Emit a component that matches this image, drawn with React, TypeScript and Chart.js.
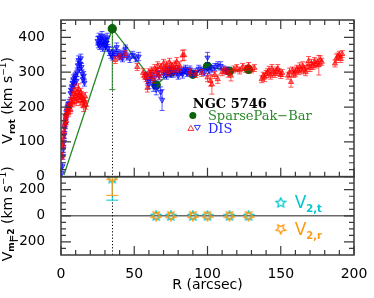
import { useEffect, useRef } from 'react';
import { Chart, registerables } from 'chart.js';
Chart.register(...registerables);

// [R (arcsec), V (km/s), error]
const disRed: [number, number, number][] = [
  [0.5, 100, 10], [0.8, 60, 10], [1.2, 90, 10], [1.6, 115, 10], [2.0, 130, 10], [2.4, 150, 10],
  [2.8, 165, 10], [3.2, 178, 12], [3.6, 160, 10], [4.0, 185, 10], [4.5, 195, 12], [5.0, 182, 10],
  [5.5, 200, 10], [6.0, 208, 12], [6.5, 192, 10], [7.0, 215, 12], [7.5, 228, 15], [8.0, 212, 12],
  [8.5, 238, 15], [9.0, 222, 12], [9.5, 248, 15], [10.0, 232, 12], [10.5, 216, 12], [11.0, 242, 15],
  [11.5, 226, 12], [12.0, 252, 15], [12.5, 236, 12], [13.0, 220, 15], [13.5, 242, 12], [14.0, 230, 15],
  [14.5, 212, 12], [15.0, 226, 12], [15.5, 202, 15], [16.0, 216, 12], [16.5, 230, 12], [17.0, 206, 12],
  [37, 335, 10], [40, 345, 8], [44, 352, 10], [52, 315, 10],
  [56, 298, 12], [57, 290, 10], [58, 285, 12], [59, 255, 12], [60, 300, 10], [61, 293, 12],
  [62, 305, 10], [63, 280, 10], [64, 310, 12], [65, 300, 10], [66, 318, 12], [67, 290, 10],
  [68, 315, 10], [69, 305, 12], [70, 325, 12], [71, 310, 10], [72, 320, 12], [73, 300, 10],
  [74, 328, 12], [75, 312, 12], [76, 318, 10], [77, 305, 12], [78, 322, 10], [79, 330, 12],
  [80, 310, 10], [81, 318, 12], [83, 348, 15], [84, 349, 15],
  [88, 300, 10], [92, 295, 10], [96, 298, 10], [100, 285, 12], [102, 275, 15], [103, 265, 28],
  [105, 292, 10], [107, 280, 12], [110, 300, 10], [112, 305, 10], [114, 298, 12], [116, 290, 15],
  [118, 308, 10], [120, 312, 10], [122, 305, 10], [124, 315, 10], [126, 310, 10], [128, 318, 10],
  [130, 308, 10], [132, 312, 10],
  [137, 280, 10], [138, 290, 10], [139, 285, 12], [140, 295, 10], [141, 300, 10], [142, 305, 12],
  [143, 290, 10], [144, 310, 12], [145, 300, 10], [146, 295, 10], [147, 305, 10], [148, 310, 12],
  [149, 300, 10], [150, 292, 10], [151, 298, 10], [155, 290, 10], [156, 300, 12], [157, 272, 15],
  [158, 305, 10], [159, 295, 10], [160, 300, 12], [161, 310, 10], [162, 303, 10], [163, 315, 12],
  [164, 305, 10], [165, 318, 12], [166, 310, 10], [167, 300, 10], [168, 315, 12], [169, 332, 13],
  [170, 312, 10], [171, 325, 12], [172, 318, 10], [173, 330, 12], [174, 322, 10], [175, 328, 10],
  [176, 320, 28], [177, 335, 12], [178, 330, 10],
  [187, 325, 10], [188, 340, 12], [189, 345, 10], [190, 350, 10], [191, 338, 10], [192, 352, 10],
];

const disBlue: [number, number, number][] = [
  [0.5, 10, 10], [1.0, 30, 10], [1.3, 60, 10], [1.6, 80, 10], [2.0, 100, 10], [2.3, 120, 10],
  [2.6, 140, 10], [3.0, 150, 12], [3.3, 165, 10], [3.6, 175, 12], [4.0, 190, 10], [4.5, 200, 12],
  [5.0, 205, 10], [5.5, 210, 12], [6.0, 198, 10], [6.5, 240, 12], [7.0, 250, 10], [7.5, 260, 12],
  [8.0, 270, 10], [8.5, 280, 12], [9.0, 265, 10], [9.5, 285, 12], [10.0, 290, 10], [10.5, 275, 12],
  [11.0, 300, 12], [11.5, 320, 12], [12.0, 335, 12], [12.5, 310, 10], [13.0, 325, 12], [13.5, 340, 12],
  [14.0, 315, 10], [14.5, 295, 12], [15.0, 280, 10], [15.5, 290, 12], [16.0, 270, 10],
  [25, 390, 12], [25.5, 380, 10], [26, 400, 12], [26.5, 375, 10], [27, 395, 12], [27.5, 385, 10],
  [28, 405, 12], [28.5, 370, 10], [29, 390, 12], [29.5, 380, 10], [30, 395, 12], [30.5, 375, 10],
  [31, 385, 12], [31.5, 400, 12], [32, 370, 10], [33, 360, 12],
  [34, 350, 10], [35, 345, 10], [36, 360, 12], [37, 350, 10], [38, 372, 12], [39, 355, 10],
  [40, 345, 10], [41, 350, 12], [42, 340, 10], [43, 355, 12], [44, 368, 10], [45, 345, 10],
  [47, 340, 12], [49, 350, 10], [51, 340, 10], [53, 345, 12],
  [58, 290, 10], [59, 275, 12], [60, 265, 12], [61, 280, 10], [62, 295, 10], [63, 260, 15],
  [64, 285, 10], [65, 250, 15], [66, 300, 10], [67, 290, 12], [68, 243, 15], [69, 220, 30],
  [70, 295, 10], [71, 305, 10], [72, 290, 10], [73, 300, 12], [74, 310, 10], [75, 295, 10],
  [76, 305, 10], [77, 298, 12], [78, 308, 10], [79, 300, 10], [80, 290, 10], [81, 305, 10],
  [82, 300, 10], [83, 295, 12], [84, 305, 10], [85, 310, 10], [86, 298, 10], [87, 302, 10],
  [88, 308, 10], [90, 296, 10], [92, 300, 10], [94, 310, 10], [96, 305, 10], [98, 300, 10],
  [100, 342, 15], [101, 305, 10], [103, 310, 10], [105, 315, 10], [107, 320, 10], [109, 318, 12],
  [111, 308, 10], [113, 305, 10],
];

const sparseR = [2, 35, 65, 75, 90, 100, 115, 128];
const sparseV = [5, 425, 263, 300, 294, 317, 303, 308];
const sparseErrLo = [0, 175, 0, 0, 0, 0, 0, 0];
const sparseErrHi = [0, 200, 0, 0, 0, 0, 0, 0];

const m2R = [35, 65, 75, 90, 100, 115, 128];
const v2t = [285, 0, 0, 0, 0, 0, 0];
const v2tErrLo = [165, 0, 0, 0, 0, 0, 0];
const v2tErrHi = [30, 0, 0, 0, 0, 0, 0];
const v2r = [290, 0, 0, 0, 0, 0, 0];
const v2rErrLo = [133, 0, 0, 0, 0, 0, 0];
const v2rErrHi = [30, 0, 0, 0, 0, 0, 0];

const xTicks = [0, 50, 100, 150, 200];
const yTopTicks = [0, 100, 200, 300, 400];
const yBotTicks = [-200, 0, 200];
const yBotLabels = ['\u2212200', '0', '200'];
const barRadius = 35;

const FONT = 'DejaVu Sans';
const CYAN = '#00c8d0';
const ORANGE = '#ff9910';
const GREEN = '#0b650b';

function makeStar(color: string, inverted: boolean, size = 12) {
  const c = document.createElement('canvas');
  c.width = size; c.height = size;
  const g = c.getContext('2d')!;
  g.strokeStyle = color; g.lineWidth = 1.3;
  g.beginPath();
  const cx = size / 2, cy = size / 2, R = size / 2 - 1, r = R * 0.48;
  for (let i = 0; i < 10; i++) {
    const ang = -Math.PI / 2 + i * Math.PI / 5 + (inverted ? Math.PI : 0);
    const rad = i % 2 === 0 ? R : r;
    const px = cx + rad * Math.cos(ang), py = cy + rad * Math.sin(ang);
    if (i === 0) g.moveTo(px, py); else g.lineTo(px, py);
  }
  g.closePath(); g.stroke();
  return c;
}

type Part = { t: string; size: number; dy?: number; bold?: boolean; family?: string };
function richWidth(ctx: CanvasRenderingContext2D, parts: Part[]) {
  let w = 0;
  for (const p of parts) { ctx.font = `${p.bold ? 'bold ' : ''}${p.size}px "${p.family || FONT}"`; w += ctx.measureText(p.t).width; }
  return w;
}
function drawRich(ctx: CanvasRenderingContext2D, parts: Part[], x: number, y: number, align: 'left' | 'center') {
  let cx = align === 'center' ? x - richWidth(ctx, parts) / 2 : x;
  ctx.textBaseline = 'alphabetic';
  ctx.textAlign = 'left';
  for (const p of parts) {
    ctx.font = `${p.bold ? 'bold ' : ''}${p.size}px "${p.family || FONT}"`;
    ctx.fillText(p.t, cx, y + (p.dy || 0));
    cx += ctx.measureText(p.t).width;
  }
}

const panelPlugin = {
  id: 'panels',
  beforeDatasetDraw(chart: any, args: any) {
    const ds = chart.data.datasets[args.index];
    if (!ds.errLo) return;
    const ys = chart.scales[ds.yAxisID];
    const ca = chart.chartArea;
    const ctx = chart.ctx;
    ctx.save();
    ctx.beginPath(); ctx.rect(ca.left, ys.top, ca.right - ca.left, ys.bottom - ys.top); ctx.clip();
    ctx.strokeStyle = ds.errColor; ctx.lineWidth = 1;
    const cap = ds.cap || 2.5;
    args.meta.data.forEach((pt: any, i: number) => {
      const lo = ds.errLo[i], hi = ds.errHi[i];
      if (!lo && !hi) return;
      const v = ds.data[i].y;
      const y1 = ys.getPixelForValue(v - lo), y2 = ys.getPixelForValue(v + hi);
      ctx.beginPath();
      ctx.moveTo(pt.x, y1); ctx.lineTo(pt.x, y2);
      ctx.moveTo(pt.x - cap, y1); ctx.lineTo(pt.x + cap, y1);
      ctx.moveTo(pt.x - cap, y2); ctx.lineTo(pt.x + cap, y2);
      ctx.stroke();
    });
    ctx.restore();
  },
  beforeDatasetsDraw(chart: any) {
    const ctx = chart.ctx;
    const xs = chart.scales.x, yt = chart.scales.y, yb = chart.scales.y2;
    const ca = chart.chartArea;
    ctx.save();
    ctx.strokeStyle = '#6a6a6a'; ctx.lineWidth = 1.5;
    const z = yb.getPixelForValue(0);
    ctx.beginPath(); ctx.moveTo(ca.left, z); ctx.lineTo(ca.right, z); ctx.stroke();
    ctx.strokeStyle = '#000'; ctx.lineWidth = 1; ctx.setLineDash([1.2, 2]);
    const bx = Math.round(xs.getPixelForValue(barRadius)) + 0.5;
    ctx.beginPath(); ctx.moveTo(bx, yt.top); ctx.lineTo(bx, yb.bottom); ctx.stroke();
    ctx.restore();
  },
  afterDraw(chart: any) {
    const ctx = chart.ctx;
    const xs = chart.scales.x, yt = chart.scales.y, yb = chart.scales.y2;
    const ca = chart.chartArea;
    ctx.save();
    ctx.strokeStyle = '#3a3a3a'; ctx.lineWidth = 1.5;
    ctx.strokeRect(ca.left, yt.top, ca.right - ca.left, yt.bottom - yt.top);
    ctx.strokeRect(ca.left, yb.top, ca.right - ca.left, yb.bottom - yb.top);
    ctx.lineWidth = 1.2;
    ctx.beginPath();
    for (let v = 0; v <= 200; v += 10) {
      const px = xs.getPixelForValue(v);
      const L = v % 50 === 0 ? 9 : 5;
      ctx.moveTo(px, yt.top); ctx.lineTo(px, yt.top + L);
      ctx.moveTo(px, yt.bottom); ctx.lineTo(px, yt.bottom - L);
      ctx.moveTo(px, yb.bottom); ctx.lineTo(px, yb.bottom - L);
    }
    for (let v = 0; v <= 440; v += 20) {
      const py = yt.getPixelForValue(v);
      const L = v % 100 === 0 ? 10 : 5;
      ctx.moveTo(ca.left, py); ctx.lineTo(ca.left + L, py);
      ctx.moveTo(ca.right, py); ctx.lineTo(ca.right - L, py);
    }
    for (let v = -250; v <= 250; v += 50) {
      const py = yb.getPixelForValue(v);
      const L = v % 200 === 0 ? 10 : 5;
      ctx.moveTo(ca.left, py); ctx.lineTo(ca.left + L, py);
      ctx.moveTo(ca.right, py); ctx.lineTo(ca.right - L, py);
    }
    ctx.stroke();

    // axis titles
    ctx.fillStyle = '#000';
    ctx.save();
    ctx.translate(12, (yt.top + yt.bottom) / 2 + 2);
    ctx.rotate(-Math.PI / 2);
    drawRich(ctx, [
      { t: 'V', size: 14 }, { t: 'rot', size: 9, dy: 3, bold: true }, { t: ' (km s', size: 14 },
      { t: '−1', size: 9, dy: -6 }, { t: ')', size: 14 },
    ], 0, 0, 'center');
    ctx.restore();
    ctx.save();
    ctx.translate(12, (yb.top + yb.bottom) / 2 - 2);
    ctx.rotate(-Math.PI / 2);
    drawRich(ctx, [
      { t: 'V', size: 14 }, { t: 'm=2', size: 9, dy: 2, bold: true }, { t: ' (km s', size: 14 },
      { t: '−1', size: 9, dy: -6 }, { t: ')', size: 14 },
    ], 0, 0, 'center');
    ctx.restore();
    drawRich(ctx, [{ t: 'R (arcsec)', size: 14 }], (ca.left + ca.right) / 2, 289, 'center');

    // top legend
    const lx = xs.getPixelForValue(90);
    const tx = xs.getPixelForValue(100.3);
    drawRich(ctx, [{ t: 'NGC 5746', size: 13, bold: true, family: 'DejaVu Serif' }], lx, yt.getPixelForValue(211) + 5, 'left');
    const gy = yt.getPixelForValue(176);
    ctx.fillStyle = GREEN;
    ctx.beginPath(); ctx.arc(lx, gy, 3.5, 0, Math.PI * 2); ctx.fill();
    ctx.fillStyle = '#2a8a2a';
    drawRich(ctx, [{ t: 'SparsePak−Bar', size: 13, family: 'DejaVu Serif' }], tx, gy + 5, 'left');
    const dy = yt.getPixelForValue(140);
    ctx.lineWidth = 1;
    ctx.strokeStyle = '#ff3030';
    ctx.beginPath(); ctx.moveTo(lx - 5, dy + 2.5); ctx.lineTo(lx - 2, dy - 2.5); ctx.lineTo(lx + 1, dy + 2.5); ctx.closePath(); ctx.stroke();
    ctx.strokeStyle = '#3030ff';
    ctx.beginPath(); ctx.moveTo(lx + 1.5, dy - 2.5); ctx.lineTo(lx + 7.5, dy - 2.5); ctx.lineTo(lx + 4.5, dy + 2.5); ctx.closePath(); ctx.stroke();
    ctx.fillStyle = '#2828ff';
    drawRich(ctx, [{ t: 'DIS', size: 13, family: 'DejaVu Serif' }], tx, dy + 5, 'left');

    // bottom legend
    const sx = xs.getPixelForValue(150);
    const s1 = yb.getPixelForValue(100), s2 = yb.getPixelForValue(-100);
    const st = makeStar(CYAN, false, 12), sr = makeStar(ORANGE, true, 12);
    ctx.drawImage(st, sx - 6, s1 - 6);
    ctx.drawImage(sr, sx - 6, s2 - 6);
    const vx = xs.getPixelForValue(159.5);
    ctx.fillStyle = CYAN;
    drawRich(ctx, [{ t: 'V', size: 17 }, { t: '2,t', size: 10, dy: 4, bold: true }], vx, s1 + 5, 'left');
    ctx.fillStyle = ORANGE;
    drawRich(ctx, [{ t: 'V', size: 17 }, { t: '2,r', size: 10, dy: 4, bold: true }], vx, s2 + 6, 'left');
    ctx.restore();
  },
};

export default function App() {
  const ref = useRef<HTMLCanvasElement>(null);
  useEffect(() => {
    const starT = makeStar(CYAN, false, 12);
    const starR = makeStar(ORANGE, true, 12);
    const chart = new Chart(ref.current!, {
      type: 'scatter',
      data: {
        datasets: [
          {
            data: disRed.map(d => ({ x: d[0], y: d[1] })),
            errLo: disRed.map(d => d[2]), errHi: disRed.map(d => d[2]), errColor: 'rgba(255,0,0,0.65)',
            yAxisID: 'y', pointStyle: 'triangle', pointRadius: 3,
            backgroundColor: 'rgba(255,0,0,0.45)', borderColor: 'rgba(255,0,0,0.7)', borderWidth: 1,
          } as any,
          {
            data: disBlue.map(d => ({ x: d[0], y: d[1] })),
            errLo: disBlue.map(d => d[2]), errHi: disBlue.map(d => d[2]), errColor: 'rgba(0,0,255,0.65)',
            yAxisID: 'y', pointStyle: 'triangle', rotation: 180, pointRadius: 3,
            backgroundColor: 'rgba(0,0,255,0.45)', borderColor: 'rgba(0,0,255,0.7)', borderWidth: 1,
          } as any,
          {
            data: sparseR.map((r, i) => ({ x: r, y: sparseV[i] })),
            errLo: sparseErrLo, errHi: sparseErrHi, errColor: '#2a8a2a', cap: 3,
            yAxisID: 'y', showLine: true, borderColor: '#2a8a2a', borderWidth: 1.3,
            pointRadius: sparseR.map((_, i) => (i === 0 ? 0 : 4)), pointStyle: 'circle',
            backgroundColor: GREEN, pointBorderColor: GREEN,
          } as any,
          {
            data: m2R.map((r, i) => ({ x: r, y: v2r[i] })),
            errLo: v2rErrLo, errHi: v2rErrHi, errColor: ORANGE, cap: 6,
            yAxisID: 'y2', pointStyle: starR, pointRadius: 6,
          } as any,
          {
            data: m2R.map((r, i) => ({ x: r, y: v2t[i] })),
            errLo: v2tErrLo, errHi: v2tErrHi, errColor: CYAN, cap: 6,
            yAxisID: 'y2', pointStyle: starT, pointRadius: 6,
          } as any,
        ],
      },
      options: {
        animation: false,
        responsive: true,
        maintainAspectRatio: false,
        layout: { padding: { left: 0, right: 20, top: 20, bottom: 0 } },
        plugins: { legend: { display: false }, tooltip: { enabled: false } },
        scales: {
          x: {
            type: 'linear', min: 0, max: 200, position: 'bottom',
            grid: { display: false }, border: { display: false },
            afterBuildTicks: (s: any) => { s.ticks = xTicks.map(v => ({ value: v })); },
            afterFit: (s: any) => { s.height = 43; },
            ticks: { font: { family: FONT, size: 14 }, color: '#000', padding: 3, maxRotation: 0 },
          },
          y: {
            type: 'linear', min: 0, max: 450, position: 'left', stack: 'v', stackWeight: 2, weight: 2,
            grid: { display: false }, border: { display: false },
            afterBuildTicks: (s: any) => { s.ticks = yTopTicks.map(v => ({ value: v })); },
            afterFit: (s: any) => { s.width = 61; },
            ticks: { font: { family: FONT, size: 14 }, color: '#000', padding: 8 },
          },
          y2: {
            type: 'linear', min: -300, max: 300, position: 'left', stack: 'v', stackWeight: 1, weight: 1,
            grid: { display: false }, border: { display: false },
            afterBuildTicks: (s: any) => { s.ticks = yBotTicks.map(v => ({ value: v })); },
            afterFit: (s: any) => { s.width = 61; },
            ticks: {
              font: { family: FONT, size: 13.5 }, color: '#000', padding: 8, autoSkip: false,
              callback: (_v: any, i: number) => yBotLabels[i],
            },
          },
        } as any,
      },
      plugins: [panelPlugin as any],
    });
    return () => chart.destroy();
  }, []);
  return (
    <div style={{ position: 'fixed', left: 0, top: 0, width: 374, height: 298, background: '#fff' }}>
      <canvas ref={ref} />
    </div>
  );
}
